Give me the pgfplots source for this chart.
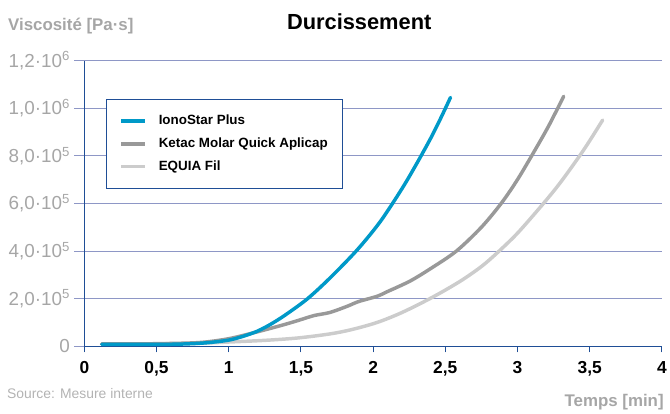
\documentclass[border=0pt]{standalone}
\usepackage{pgfplots}
\pgfplotsset{compat=1.18}
\usepackage{fontspec}
\setmainfont{Liberation Sans}
\definecolor{cblue}{HTML}{0099C8}
\definecolor{cgray}{HTML}{999999}
\definecolor{clight}{HTML}{CCCCCC}
\definecolor{axblue}{HTML}{1F4E96}
\definecolor{gridc}{HTML}{8E97C6}
\definecolor{labgray}{HTML}{A6A6A6}
\begin{document}
\begin{tikzpicture}
\begin{axis}[
  at={(0pt,0pt)}, anchor=south west,
  scale only axis, width=582pt, height=288pt,
  xmin=0, xmax=4, ymin=0, ymax=1.2e6,
  axis x line*=bottom, axis y line*=left,
  axis line style={axblue, line width=1pt},
  xtick={0,0.5,1,1.5,2,2.5,3,3.5,4},
  xticklabels={0,{0,5},1,{1,5},2,{2,5},3,{3,5},4},
  ytick={0,2e5,4e5,6e5,8e5,1e6,1.2e6},
  yticklabels={0,{2,0·10\textsuperscript{5}},{4,0·10\textsuperscript{5}},{6,0·10\textsuperscript{5}},{8,0·10\textsuperscript{5}},{1,0·10\textsuperscript{6}},{1,2·10\textsuperscript{6}}},
  scaled y ticks=false,
  tick align=outside,
  major tick length=10pt,
  x tick style={axblue, line width=1pt, /pgfplots/major tick length=6pt},
  y tick style={gridc, line width=1pt},
  ymajorgrids, grid style={gridc, line width=0.8pt},
  x tick label style={font=\fontsize{17.5}{17.5}\selectfont\bfseries, text=black, yshift=-2pt},
  y tick label style={font=\fontsize{19}{19}\selectfont, text=labgray, xshift=-1pt},
  clip=false,
  legend style={at={(22pt,249pt)}, anchor=north west, draw=axblue, line width=1pt,
    fill=white, font=\fontsize{13.5}{13.5}\selectfont\bfseries,
    inner xsep=13pt, inner ysep=13pt, row sep=6pt, column sep=10pt, legend cell align=left,
    nodes={inner ysep=2pt, text height=10pt, text depth=3pt}},
  legend image code/.code={\draw[#1, line width=3.5pt] (0pt,0pt) -- (24pt,0pt);},
]
\addplot[clight, line width=3.5pt, smooth, line cap=round, forget plot] coordinates {
(0.12,1.0e4)(0.5,1.05e4)(0.8,1.3e4)(1.0,1.8e4)(1.249,2.5e4)(1.478,3.5e4)(1.70,5.2e4)(1.85,7.0e4)(2.027,1.0e5)(2.2,1.42e5)(2.405,2.04e5)(2.6,2.72e5)(2.75,3.35e5)(2.864,3.95e5)(3.0,4.75e5)(3.173,5.95e5)(3.3,6.9e5)(3.459,8.25e5)(3.59,9.5e5)};
\addplot[cgray, line width=3.5pt, smooth, line cap=round, forget plot] coordinates {
(0.12,1.0e4)(0.5,1.1e4)(0.8,1.6e4)(1.0,3.2e4)(1.18,5.8e4)(1.36,8.7e4)(1.478,1.08e5)(1.59,1.29e5)(1.70,1.42e5)(1.82,1.68e5)(1.9,1.88e5)(2.027,2.1e5)(2.1,2.3e5)(2.256,2.74e5)(2.4,3.27e5)(2.577,4.0e5)(2.75,5.0e5)(2.887,6.0e5)(3.0,7.0e5)(3.127,8.3e5)(3.22,9.3e5)(3.32,1.05e6)};
\addplot[cblue, line width=3.5pt, smooth, line cap=round, forget plot] coordinates {
(0.12,8e3)(0.5,8e3)(0.7,1.0e4)(0.85,1.5e4)(1.0,2.6e4)(1.1,4.2e4)(1.2,6.4e4)(1.3,9.6e4)(1.4,1.35e5)(1.546,2.0e5)(1.7,2.86e5)(1.89,4.05e5)(2.05,5.24e5)(2.2,6.62e5)(2.3,7.65e5)(2.4,8.75e5)(2.47,9.6e5)(2.536,1.045e6)};
\addlegendimage{cblue}\addlegendentry{IonoStar Plus}
\addlegendimage{cgray}\addlegendentry{Ketac Molar Quick Aplicap}
\addlegendimage{clight}\addlegendentry{EQUIA Fil}
\end{axis}
\node[anchor=base west, font=\fontsize{17}{17}\selectfont\bfseries, text=labgray, inner xsep=0pt] at (-77pt,318pt) {Viscosité [Pa·s]};
\node[anchor=base, font=\fontsize{22}{22}\selectfont\bfseries, text=black] at (277pt,319pt) {Durcissement};
\node[anchor=base west, font=\fontsize{14}{14}\selectfont, text=labgray!85, inner xsep=0pt] at (-78pt,-52.7pt) {Source: Mesure interne};
\node[anchor=base east, font=\fontsize{17}{17}\selectfont\bfseries, text=labgray, inner xsep=0pt] at (584pt,-61pt) {Temps [min]};
\path[use as bounding box] (-85pt,-64pt) rectangle (585pt,349pt);
\end{tikzpicture}
\end{document}
